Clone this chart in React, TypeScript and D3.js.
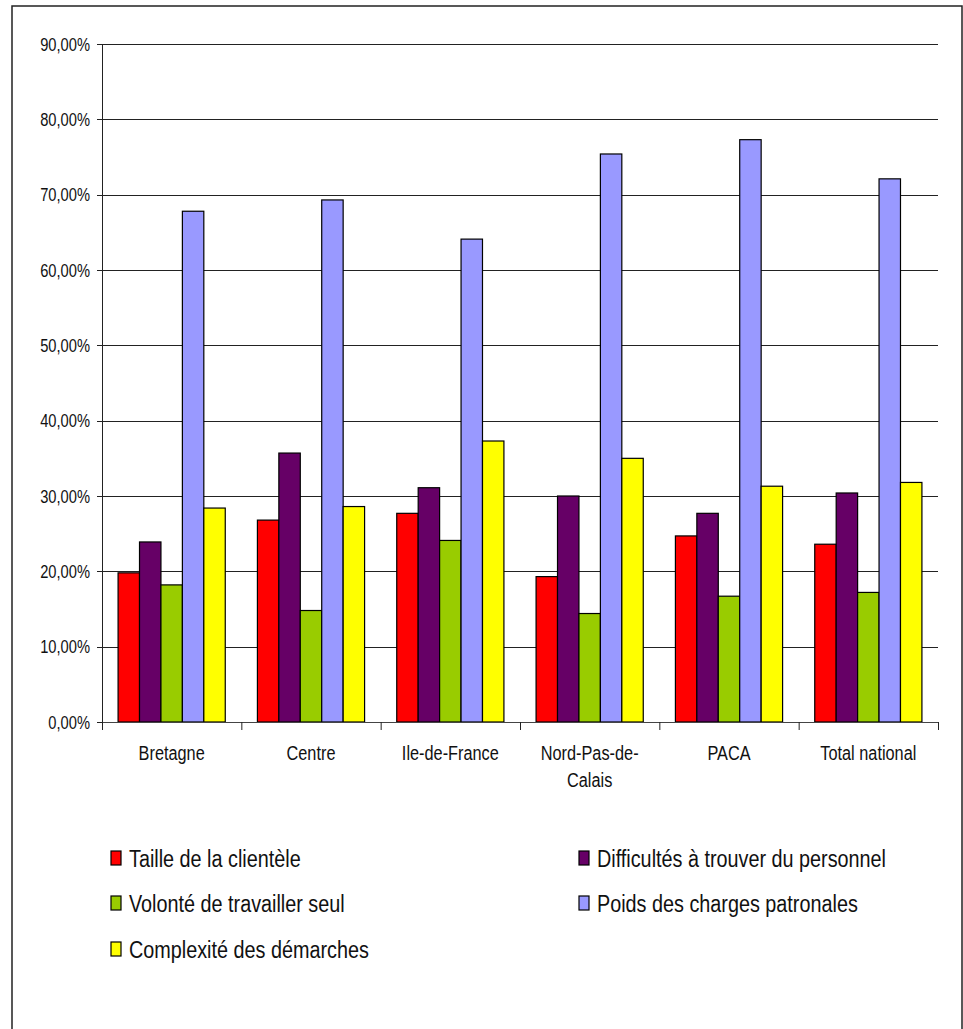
import React from "react";
import * as d3 from "d3";

const categories = ["Bretagne", "Centre", "Ile-de-France", "Nord-Pas-de-Calais", "PACA", "Total national"];
const categoryLines = [["Bretagne"], ["Centre"], ["Ile-de-France"], ["Nord-Pas-de-", "Calais"], ["PACA"], ["Total national"]];
const seriesNames = [
  "Taille de la clientèle",
  "Difficultés à trouver du personnel",
  "Volonté de travailler seul",
  "Poids des charges patronales",
  "Complexité des démarches",
];
const seriesColors = ["#FF0000", "#660066", "#99CC00", "#9999FF", "#FFFF00"];
const tailleClientele = [0.198, 0.268, 0.277, 0.193, 0.247, 0.236];
const difficultesPersonnel = [0.239, 0.357, 0.311, 0.300, 0.277, 0.304];
const volonteSeul = [0.182, 0.148, 0.241, 0.144, 0.167, 0.172];
const poidsCharges = [0.678, 0.693, 0.641, 0.754, 0.773, 0.721];
const complexiteDemarches = [0.284, 0.286, 0.373, 0.350, 0.313, 0.318];
const seriesValues = [tailleClientele, difficultesPersonnel, volonteSeul, poidsCharges, complexiteDemarches];
const yTicks = [0, 0.1, 0.2, 0.3, 0.4, 0.5, 0.6, 0.7, 0.8, 0.9];

const fmt = (v: number) => (v * 100).toFixed(2).replace(".", ",") + "%";

export default function App() {
  const W = 963, H = 1029;
  const left = 102, right = 938, top = 44, bottom = 722;
  const x0 = d3.scaleBand<number>().domain(d3.range(categories.length)).range([left, right]).padding(0);
  const x1 = d3.scaleBand<number>().domain(d3.range(seriesNames.length)).range([0, x0.bandwidth()]).paddingInner(0).paddingOuter(0.75);
  const y = d3.scaleLinear().domain([0, 0.9]).range([bottom, top]);
  const font = "'Liberation Sans', Arial, sans-serif";
  const boundaries = d3.range(categories.length + 1).map((i) => left + i * x0.step());

  const legendItems = [
    { i: 0, x: 111, y: 858 },
    { i: 1, x: 579, y: 858 },
    { i: 2, x: 111, y: 903 },
    { i: 3, x: 579, y: 903 },
    { i: 4, x: 111, y: 949 },
  ];

  return (
    <svg width={W} height={H} style={{ position: "absolute", left: 0, top: 0 }} fontFamily={font}>
      <rect x={0} y={0} width={W} height={H} fill="#fff" />
      <rect x={12} y={6} width={950} height={1100} fill="#fff" stroke="#222" strokeWidth={1.5} />
      {yTicks.slice(1).map((t) => (
        <line key={t} x1={left} x2={right} y1={Math.round(y(t)) + 0.5} y2={Math.round(y(t)) + 0.5} stroke="#222" strokeWidth={1} />
      ))}
      {categories.map((c, ci) => (
        <g key={c}>
          {seriesValues.map((vals, si) => {
            const bx = (x0(ci) as number) + (x1(si) as number);
            const by = y(vals[ci]);
            return (
              <rect key={si} x={bx} y={by} width={x1.bandwidth()} height={bottom - by} fill={seriesColors[si]} stroke="#000" strokeWidth={1.2} />
            );
          })}
        </g>
      ))}
      <line x1={left + 0.5} x2={left + 0.5} y1={top} y2={bottom} stroke="#222" strokeWidth={1} />
      <line x1={left} x2={right} y1={bottom + 0.5} y2={bottom + 0.5} stroke="#444" strokeWidth={1.2} />
      {yTicks.map((t) => (
        <g key={"yt" + t}>
          <line x1={97} x2={left} y1={Math.round(y(t)) + 0.5} y2={Math.round(y(t)) + 0.5} stroke="#222" />
          <text
            x={90}
            y={0}
            textAnchor="end"
            fontSize={14.7}
            fill="#111"
            transform={`translate(0, ${y(t) + 6.8}) scale(1, 1.3)`}
          >
            {fmt(t)}
          </text>
        </g>
      ))}
      {boundaries.map((bx, i) => (
        <line key={"xt" + i} x1={bx + 0.5} x2={bx + 0.5} y1={bottom} y2={bottom + 8} stroke="#222" />
      ))}
      {categoryLines.map((lines, ci) => (
        <g key={"cl" + ci}>
          {lines.map((ln, li) => (
            <text
              key={li}
              x={(x0(ci) as number) + x0.bandwidth() / 2}
              y={0}
              textAnchor="middle"
              fontSize={16.3}
              fill="#111"
              transform={`translate(0, ${760 + li * 27}) scale(1, 1.2)`}
            >
              {ln}
            </text>
          ))}
        </g>
      ))}
      {legendItems.map(({ i, x, y: ly }) => (
        <g key={"lg" + i}>
          <rect x={x} y={ly - 7} width={10} height={14} fill={seriesColors[i]} stroke="#000" strokeWidth={1.2} />
          <text x={x + 18} y={0} fontSize={19.8} fill="#111" transform={`translate(0, ${ly + 8.5}) scale(1, 1.25)`}>
            {seriesNames[i]}
          </text>
        </g>
      ))}
    </svg>
  );
}
